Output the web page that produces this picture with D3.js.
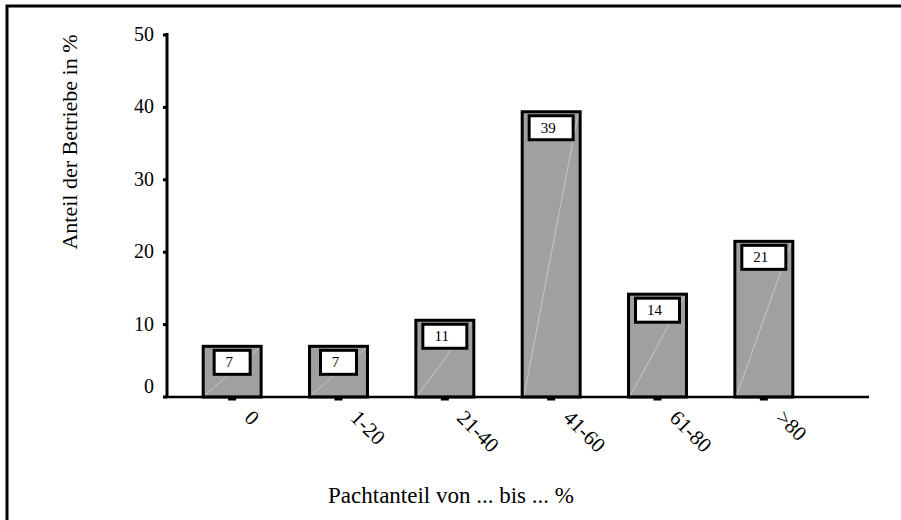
<!DOCTYPE html>
<html>
<head>
<meta charset="utf-8">
<script src="https://cdn.jsdelivr.net/npm/d3@7"></script>
<style>
  body { margin: 0; background: #fff; }
  svg { display: block; font-family: "Liberation Serif", "DejaVu Serif", serif; }
</style>
</head>
<body>
<div id="chart"></div>
<script>
// data
var categories = ["0", "1-20", "21-40", "41-60", "61-80", ">80"];
var values = [7.0, 7.0, 10.6, 39.4, 14.2, 21.5];
var labels = [7, 7, 11, 39, 14, 21];
var yTicks = [0, 10, 20, 30, 40, 50];

var width = 901, height = 520;

var svg = d3.select("#chart")
  .append("svg")
    .attr("width", width)
    .attr("height", height);

// outer frame (right and bottom edges sit outside the picture)
svg.append("rect")
    .attr("x", 7).attr("y", 6)
    .attr("width", 1000).attr("height", 1000)
    .attr("fill", "none")
    .attr("stroke", "#000")
    .attr("stroke-width", 3);

var x = d3.scaleBand()
  .domain(categories)
  .range([179, 817])
  .paddingInner(0.455)
  .paddingOuter(0.2275);

var y = d3.scaleLinear()
  .domain([0, 50])
  .range([397, 35]);

// y axis
svg.append("line")
    .attr("x1", 167).attr("x2", 167)
    .attr("y1", y(50) - 2).attr("y2", y(0))
    .attr("stroke", "#000").attr("stroke-width", 3);

svg.selectAll(".ytick")
  .data(yTicks)
  .enter().append("line")
    .attr("class", "ytick")
    .attr("x1", 163).attr("x2", 167)
    .attr("y1", function(d) { return y(d); })
    .attr("y2", function(d) { return y(d); })
    .attr("stroke", "#000").attr("stroke-width", 3);

svg.selectAll(".ylab")
  .data(yTicks)
  .enter().append("text")
    .attr("class", "ylab")
    .attr("x", 154)
    .attr("y", function(d) { return y(d) + (d === 0 ? -4 : 6); })
    .attr("text-anchor", "end")
    .attr("font-size", 20)
    .text(function(d) { return d; });

// bars
var bars = svg.selectAll(".bar")
  .data(values)
  .enter().append("g")
    .attr("class", "bar");

bars.append("rect")
    .attr("x", function(d, i) { return x(categories[i]); })
    .attr("y", function(d) { return y(d); })
    .attr("width", x.bandwidth())
    .attr("height", function(d) { return y(0) - y(d); })
    .attr("fill", "#a0a0a0")
    .attr("stroke", "#000")
    .attr("stroke-width", 3);

// faint diagonal streak inside each bar
bars.append("line")
    .attr("x1", function(d, i) { return x(categories[i]) + 2; })
    .attr("y1", y(0) - 2)
    .attr("x2", function(d, i) { return x(categories[i]) + x.bandwidth() - 2; })
    .attr("y2", function(d) { return y(d) + 2; })
    .attr("stroke", "#fff")
    .attr("stroke-opacity", 0.4)
    .attr("stroke-width", 1);

// value boxes
var boxH = 24;
function boxW(i) { return String(labels[i]).length > 1 ? 44 : 36; }
bars.append("rect")
    .attr("x", function(d, i) { return x(categories[i]) + x.bandwidth() / 2 - boxW(i) / 2; })
    .attr("y", function(d) { return y(d) + 4; })
    .attr("width", function(d, i) { return boxW(i); })
    .attr("height", boxH)
    .attr("fill", "#fff")
    .attr("stroke", "#000")
    .attr("stroke-width", 3);

bars.append("text")
    .attr("x", function(d, i) { return x(categories[i]) + x.bandwidth() / 2 - 3; })
    .attr("y", function(d) { return y(d) + 4 + boxH / 2 + 5; })
    .attr("text-anchor", "middle")
    .attr("font-size", 15)
    .text(function(d, i) { return labels[i]; });

// baseline
svg.append("line")
    .attr("x1", 165).attr("x2", 869)
    .attr("y1", y(0)).attr("y2", y(0))
    .attr("stroke", "#000").attr("stroke-width", 2.5);

// x ticks under the baseline
svg.selectAll(".xtick")
  .data(categories)
  .enter().append("line")
    .attr("class", "xtick")
    .attr("x1", function(d) { return x(d) + x.bandwidth() / 2 - 4; })
    .attr("x2", function(d) { return x(d) + x.bandwidth() / 2 + 4; })
    .attr("y1", y(0) + 2).attr("y2", y(0) + 2)
    .attr("stroke", "#000").attr("stroke-width", 3);

// rotated category labels
svg.selectAll(".xlab")
  .data(categories)
  .enter().append("text")
    .attr("class", "xlab")
    .attr("transform", function(d) {
      return "translate(" + (x(d) + x.bandwidth() / 2 + 11) + "," + 419 + ") rotate(45)";
    })
    .attr("font-size", 21)
    .text(function(d) { return d; });

// axis titles
svg.append("text")
    .attr("transform", "translate(77,142) rotate(-90)")
    .attr("text-anchor", "middle")
    .attr("font-size", 22)
    .text("Anteil der Betriebe in %");

svg.append("text")
    .attr("x", 451).attr("y", 503)
    .attr("text-anchor", "middle")
    .attr("font-size", 23)
    .text("Pachtanteil von ... bis ... %");
</script>
</body>
</html>
